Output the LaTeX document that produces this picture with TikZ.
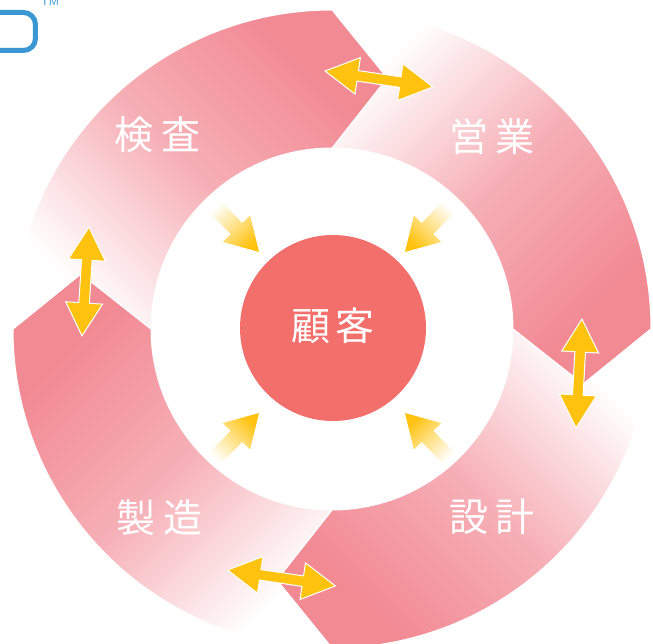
\documentclass[tikz,border=0pt]{standalone}
\usepackage{fontspec}
\newfontfamily\jp{Noto Sans CJK JP}
\definecolor{pinkd}{RGB}{242,138,148}
\definecolor{coreR}{RGB}{242,111,107}
\definecolor{yel}{RGB}{255,194,14}
\definecolor{yelL}{RGB}{255,224,130}
\definecolor{blu}{RGB}{58,151,212}
\pgfdeclarehorizontalshading{ringfade}{100bp}{color(0bp)=(white); color(25bp)=(white); color(49bp)=(pinkd!68); color(72bp)=(pinkd); color(100bp)=(pinkd)}
\pgfdeclarehorizontalshading{arrowfade}{100bp}{color(0bp)=(white); color(25bp)=(white); color(52bp)=(yelL); color(75bp)=(yel); color(100bp)=(yel)}
\tikzset{
  segment/.style={shading=ringfade, draw=white, line width=1pt},
  dblarr/.style={fill=yel, draw=white, line width=1pt, line join=miter},
  inarr/.style={shading=arrowfade},
  lbl/.style={text=white, inner sep=0pt, font=\jp\fontsize{39}{40}\selectfont}
}
\newcommand\mydblarrow[3]{%
  \begin{scope}[shift={(#1,#2)}, rotate=#3]
    \path[dblarr] (-54.5,0) -- (-21.5,18.5) -- (-21.5,5.3) -- (21.5,5.3) -- (21.5,18.5) -- (54.5,0)
      -- (21.5,-18.5) -- (21.5,-5.3) -- (-21.5,-5.3) -- (-21.5,-18.5) -- cycle;
  \end{scope}}
\newcommand\myinarrow[3]{%
  \begin{scope}[shift={(#1,#2)}, rotate=#3]
    \path[inarr, shading angle=#3] (0,0) -- (-32.5,19) -- (-32.5,8) -- (-66,8) -- (-66,-8) -- (-32.5,-8) -- (-32.5,-19) -- cycle;
  \end{scope}}
\begin{document}
\begin{tikzpicture}[x=1pt, y=1pt]
\useasboundingbox (-332,-315) rectangle (321,329);
\clip (-332,-315) rectangle (321,329);
% ring segments
\foreach \a in {90,0,270,180}{
  \path[segment, shading angle=\a-135]
    (\a:319) arc[start angle=\a, end angle=\a-90, radius=319]
    -- (\a-102.4:257) -- (\a-90:181)
    arc[start angle=\a-90, end angle=\a, radius=181]
    -- (\a-12.4:257) -- cycle;
}
% labels
\node[lbl] (kensa) at (-174,194) {検\hspace{8pt}査};
\node[lbl] (eigyo) at (160,192) {営\hspace{8pt}業};
\node[lbl] (seizo) at (-172,-189) {製\hspace{8pt}造};
\node[lbl] (sekkei) at (160,-188) {設\hspace{8pt}計};
% core
\node[circle, fill=coreR, minimum size=186pt, inner sep=0pt] (core) at (1,1) {};
\node[lbl] (kokyaku) at (1,3) {顧\hspace{6pt}客};
% double arrows
\mydblarrow{47}{250}{-8.4}
\mydblarrow{247}{-44.5}{86.9}
\mydblarrow{-50.5}{-249}{-8.4}
\mydblarrow{-246.5}{47.5}{86.3}
% inward arrows
\myinarrow{-73}{77}{-46}
\myinarrow{73}{77}{-134}
\myinarrow{-73}{-84}{46}
\myinarrow{73}{-84}{134}
% top-left fragment
\draw[blu, line width=5pt, rounded corners=12pt] (-370,316.5) -- (-296.5,316.5) -- (-296.5,278.5) -- (-370,278.5);
\node[blu, anchor=south, inner sep=0pt, font=\sffamily\fontsize{12}{12}\selectfont] (tm) at (-282,323.5) {TM};
\end{tikzpicture}
\end{document}
